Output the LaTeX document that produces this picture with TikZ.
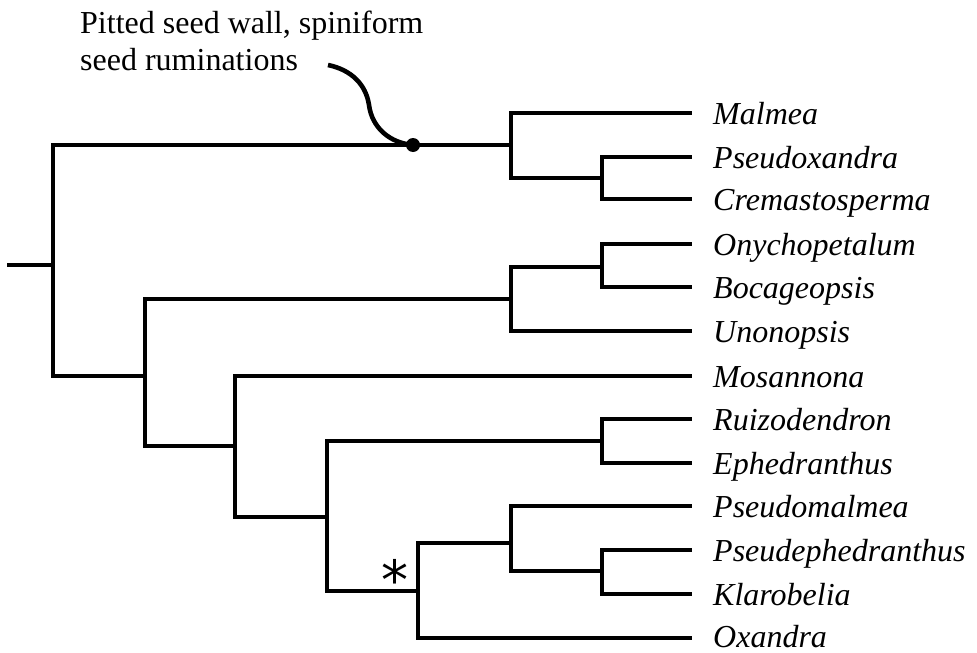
\documentclass[tikz,border=0pt]{standalone}
\usepackage{fontspec}
\setmainfont{Liberation Serif}
\newfontfamily\astfont{DejaVu Sans}
\begin{document}
\begin{tikzpicture}[x=1pt,y=-1pt,
  branch/.style={line width=3.2pt, line join=miter},
  leaf/.style={anchor=base west, inner sep=0pt, font=\fontsize{32}{37}\selectfont\itshape},
  notefont/.style={inner sep=0pt, align=left, font=\fontsize{32}{37}\selectfont},
  curvy/.style={line width=4.6pt},
  dotnode/.style={circle, fill=black, inner sep=0pt, minimum size=14pt},
  astnode/.style={inner sep=0pt, font=\astfont\fontsize{54}{54}\selectfont}
]
\useasboundingbox (0,0) rectangle (977,653);

% internal nodes
\coordinate (stem) at (7,265);
\coordinate (root) at (53,265);
\coordinate (A)  at (511,145);
\coordinate (A2) at (602,178);
\coordinate (B)  at (145,376);
\coordinate (C)  at (511,299);
\coordinate (C2) at (602,267);
\coordinate (D)  at (235,446);
\coordinate (E)  at (327,517);
\coordinate (F)  at (602,441);
\coordinate (G)  at (418,591);
\coordinate (H)  at (511,543);
\coordinate (I)  at (602,571);

% leaf tips
\coordinate (tMal) at (692,113);
\coordinate (tPsx) at (692,157);
\coordinate (tCre) at (692,199);
\coordinate (tOny) at (692,244);
\coordinate (tBoc) at (692,287);
\coordinate (tUno) at (692,331);
\coordinate (tMos) at (692,376);
\coordinate (tRui) at (692,419);
\coordinate (tEph) at (692,463);
\coordinate (tPsm) at (692,506);
\coordinate (tPse) at (692,550);
\coordinate (tKla) at (692,594);
\coordinate (tOxa) at (692,638);

% leaf labels
\node[leaf] (Mal) at (713,124) {Malmea};
\node[leaf] (Psx) at (713,168) {Pseudoxandra};
\node[leaf] (Cre) at (713,210) {Cremastosperma};
\node[leaf] (Ony) at (713,255) {Onychopetalum};
\node[leaf] (Boc) at (713,298) {Bocageopsis};
\node[leaf] (Uno) at (713,342) {Unonopsis};
\node[leaf] (Mos) at (713,387) {Mosannona};
\node[leaf] (Rui) at (713,430) {Ruizodendron};
\node[leaf] (Eph) at (713,474) {Ephedranthus};
\node[leaf] (Psm) at (713,517) {Pseudomalmea};
\node[leaf] (Pse) at (713,561) {Pseudephedranthus};
\node[leaf] (Kla) at (713,605) {Klarobelia};
\node[leaf] (Oxa) at (713,647) {Oxandra};

% branches
\draw[branch] (stem) -- (root);
\draw[branch] (root) |- (A);
\draw[branch] (root) |- (B);
\draw[branch] (A) |- (tMal);
\draw[branch] (A) |- (A2);
\draw[branch] (A2) |- (tPsx);
\draw[branch] (A2) |- (tCre);
\draw[branch] (B) |- (C);
\draw[branch] (B) |- (D);
\draw[branch] (C) |- (C2);
\draw[branch] (C) |- (tUno);
\draw[branch] (C2) |- (tOny);
\draw[branch] (C2) |- (tBoc);
\draw[branch] (D) |- (tMos);
\draw[branch] (D) |- (E);
\draw[branch] (E) |- (F);
\draw[branch] (E) |- (G);
\draw[branch] (F) |- (tRui);
\draw[branch] (F) |- (tEph);
\draw[branch] (G) |- (H);
\draw[branch] (G) |- (tOxa);
\draw[branch] (H) |- (tPsm);
\draw[branch] (H) |- (I);
\draw[branch] (I) |- (tPse);
\draw[branch] (I) |- (tKla);

% character annotation
\node[dotnode] (dot) at (413,145) {};
\node[notefont, anchor=north west] (note) at (80,11) {Pitted seed wall, spiniform\\seed ruminations};
\coordinate (cstart) at (328,65);
\draw[curvy] (cstart) .. controls (352,70) and (366,85) .. (369,105)
  .. controls (372,128) and (390,143) .. (dot.center);

% asterisk
\node[astnode, anchor=north] (ast) at (395,559) {*};
\end{tikzpicture}
\end{document}
